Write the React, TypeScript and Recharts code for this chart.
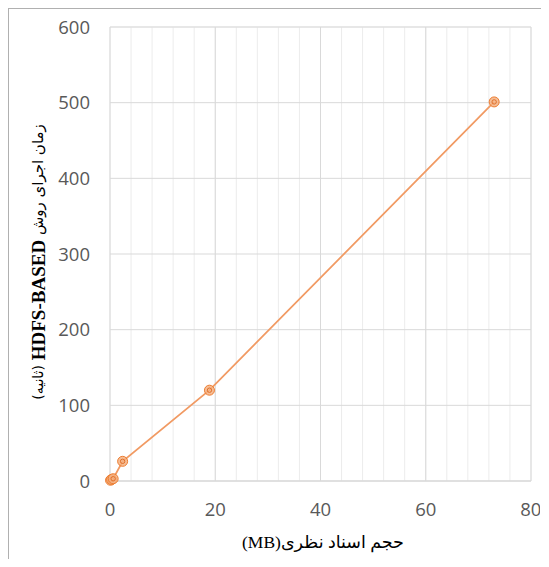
import React from "react";
import { LineChart, Line, XAxis, YAxis, CartesianGrid, Label } from "recharts";

const sizesMB = [0.1, 0.3, 0.6, 2.4, 18.9, 73];
const timesSec = [1, 2, 3, 26, 120, 501];
const xMajorTicks = [0, 20, 40, 60, 80];
const xMinorTicks = [0, 4, 8, 12, 16, 20, 24, 28, 32, 36, 40, 44, 48, 52, 56, 60, 64, 68, 72, 76, 80];
const yMajorTicks = [0, 100, 200, 300, 400, 500, 600];
const yMinorTicks = [0, 20, 40, 60, 80, 100, 120, 140, 160, 180, 200, 220, 240, 260, 280, 300, 320, 340, 360, 380, 400, 420, 440, 460, 480, 500, 520, 540, 560, 580, 600];
const xTitle = "حجم اسناد نظری(MB)";
const yTitleFa = "زمان اجرای روش";
const yTitleEn = "HDFS-BASED";
const yTitleUnit = "(ثانیه)";

const data = sizesMB.map((x, i) => ({ x, y: timesSec[i] }));

const Dot = (props: any) => {
  const { cx, cy } = props;
  if (cx == null || cy == null) return null;
  return (
    <g>
      <circle cx={cx} cy={cy} r={5} fill="#F4B183" fillOpacity={0.85} stroke="#ED7D31" strokeWidth={1} />
      <circle cx={cx} cy={cy} r={2.2} fill="none" stroke="#E0702A" strokeWidth={1} />
    </g>
  );
};

const tickStyle = { fill: "#595959", fontSize: 18.5, fontFamily: "'Open Sans', 'Noto Sans', sans-serif" };

export default function App() {
  return (
    <div style={{ borderLeft: "1px solid #b0b0b0", borderTop: "1px solid #b0b0b0", width: 532, height: 550 }}>
      <LineChart width={531} height={549} data={data} margin={{ top: 18, right: 9, left: 41, bottom: 37 }}>
        <XAxis xAxisId="minor" dataKey="x" type="number" domain={[0, 80]} ticks={xMinorTicks} hide />
        <YAxis yAxisId="minor" type="number" domain={[0, 600]} ticks={yMinorTicks} hide />
        <CartesianGrid xAxisId="minor" yAxisId="minor" stroke="#ececec" strokeWidth={1} />
        <CartesianGrid stroke="#d9d9d9" strokeWidth={1} />
        <XAxis
          dataKey="x"
          type="number"
          domain={[0, 80]}
          ticks={xMajorTicks}
          height={40}
          tickLine={false}
          tickSize={0}
          tickMargin={22}
          axisLine={{ stroke: "#d9d9d9" }}
          tick={tickStyle}
        >
          <Label
            content={(p: any) => {
              const vb = p.viewBox;
              return (
                <text
                  x={vb.x + vb.width / 2 + 2.5}
                  y={vb.y + 61}
                  textAnchor="middle"
                  dominantBaseline="central"
                  direction="rtl"
                  fill="#000"
                  fontSize={17.5}
                  fontFamily="'Liberation Serif', 'DejaVu Sans', serif"
                >
                  {xTitle}
                </text>
              );
            }}
          />
        </XAxis>
        <YAxis
          type="number"
          domain={[0, 600]}
          ticks={yMajorTicks}
          width={60}
          tickLine={false}
          tickSize={0}
          tickMargin={20}
          axisLine={false}
          tick={tickStyle}
        >
          <Label
            content={(p: any) => {
              const vb = p.viewBox;
              const cx = vb.x - 12;
              const cy = vb.y + vb.height / 2 + 8;
              return (
                <text
                  x={cx}
                  y={cy}
                  transform={`rotate(-90 ${cx} ${cy})`}
                  textAnchor="middle"
                  dominantBaseline="central"
                  direction="rtl"
                  fill="#000"
                  fontFamily="'DejaVu Sans', serif"
                >
                  <tspan fontSize={15}>{yTitleFa}</tspan>
                  <tspan fontSize={15}>{"  "}</tspan>
                  <tspan fontSize={19} fontWeight="bold" fontFamily="'Liberation Serif', serif">{yTitleEn}</tspan>
                  <tspan fontSize={15}>{"  "}</tspan>
                  <tspan fontSize={14}>{yTitleUnit}</tspan>
                </text>
              );
            }}
          />
        </YAxis>
        <Line
          type="linear"
          dataKey="y"
          stroke="#F19A63"
          strokeWidth={1.75}
          dot={<Dot />}
          activeDot={false}
          isAnimationActive={false}
        />
      </LineChart>
    </div>
  );
}
